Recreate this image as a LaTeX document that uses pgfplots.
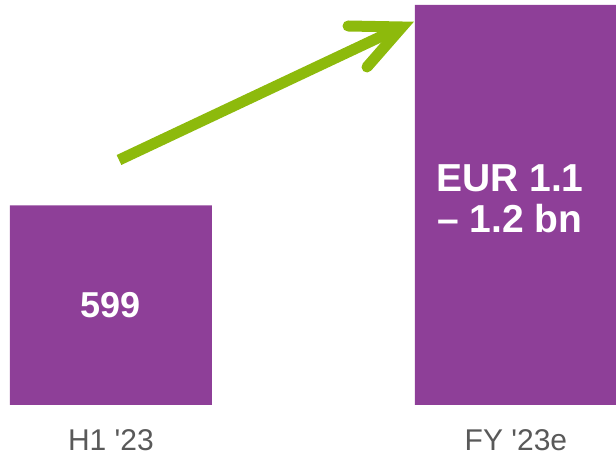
\documentclass[border=0pt]{standalone}
\usepackage{fontspec}
\setmainfont{Liberation Sans}[Ligatures=TeXOff]
\usepackage{pgfplots}
\pgfplotsset{compat=1.18}
\definecolor{barpurple}{HTML}{8E3F98}
\definecolor{arrowgreen}{HTML}{8DBA0C}
\definecolor{labelgray}{HTML}{595959}
\begin{document}
\begin{tikzpicture}
\begin{axis}[
    at={(0bp,54bp)}, anchor=south west,
    scale only axis,
    width=616bp, height=405bp,
    ybar,
    bar width=202bp,
    xmin=-0.274, xmax=1.247,
    ymin=0, ymax=1215,
    axis line style={draw=none},
    major tick length=0pt,
    ytick=\empty,
    xtick={0,1},
    xticklabels={H1 '23, FY '23e},
    xticklabel style={font=\fontsize{30bp}{34bp}\selectfont, text=labelgray, yshift=-21bp},
    clip=false,
]
\addplot[fill=barpurple, draw=none] coordinates {(0,599) (1,1200)};
% value labels inside the bars
\node[font=\bfseries\fontsize{36bp}{40bp}\selectfont, text=white] at (axis cs:0,300) {599};
\node[font=\bfseries\fontsize{39bp}{41bp}\selectfont, text=white, align=center] at (axis cs:0.985,618) {EUR 1.1\\– 1.2 bn};
\end{axis}
% growth arrow
\draw[arrowgreen, line width=11bp] (119bp,299bp) -- (397bp,430bp);
\draw[arrowgreen, line width=11bp, line cap=round, line join=miter] (348bp,433bp) -- (402bp,432bp) -- (367bp,392bp);
\pgfresetboundingbox
\path[use as bounding box] (0,0) rectangle (616bp,459bp);
\end{tikzpicture}
\end{document}
